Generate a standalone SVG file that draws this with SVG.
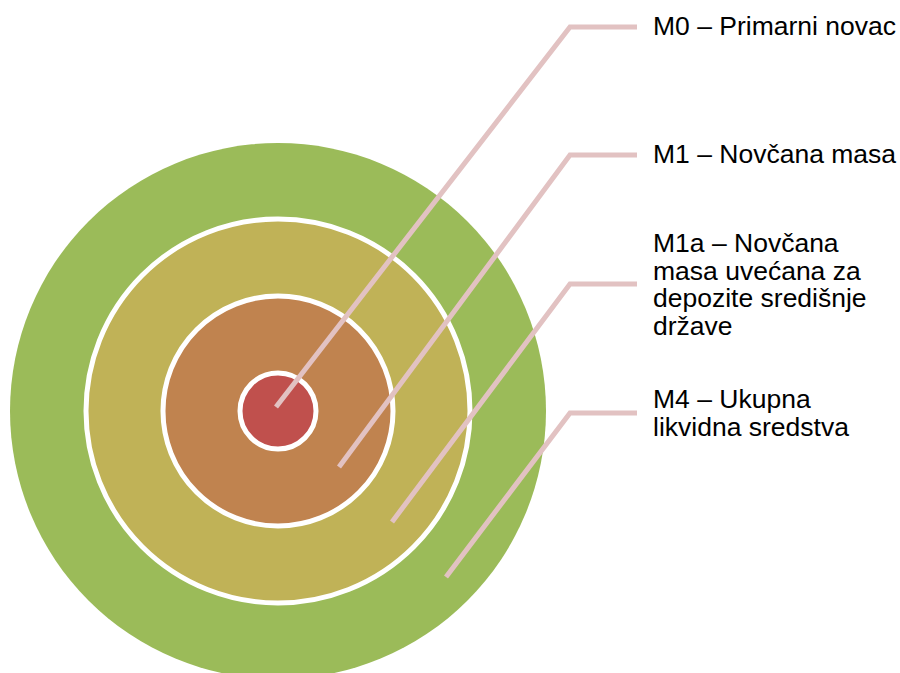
<svg xmlns="http://www.w3.org/2000/svg" width="900" height="673" viewBox="0 0 900 673">
<style>
.ring{stroke:#FFFFFF;stroke-width:5}
.lead{fill:none;stroke:#E2C2C2;stroke-width:5;stroke-linejoin:miter}
.lbl{font-family:"Liberation Sans",Arial,sans-serif;font-size:26.5px;fill:#000000}
</style>
<rect width="900" height="673" fill="#FFFFFF"/>
<g id="m4-circle"><circle cx="278" cy="411" r="268" fill="#9BBB59"/></g>
<g id="m1a-circle"><circle class="ring" cx="278" cy="411" r="192" fill="#C0B257"/></g>
<g id="m1-circle"><circle class="ring" cx="278" cy="411" r="115" fill="#C0834F"/></g>
<g id="m0-circle"><circle class="ring" cx="278" cy="411" r="38" fill="#C0504D"/></g>
<g id="connectors">
<polyline class="lead" points="276,407 570,27 637,27"/>
<polyline class="lead" points="339,467 570,155 637,155"/>
<polyline class="lead" points="392,522 570,284 637,284"/>
<polyline class="lead" points="446,577 570,413 637,413"/>
</g>
<g id="label-m0"><text class="lbl" x="653" y="35">M0 – Primarni novac</text></g>
<g id="label-m1"><text class="lbl" x="653" y="163">M1 – Novčana masa</text></g>
<g id="label-m1a"><text class="lbl" x="653" y="252">M1a – Novčana<tspan x="653" dy="27.7">masa uvećana za</tspan><tspan x="653" dy="27.7">depozite središnje</tspan><tspan x="653" dy="27.7">države</tspan></text></g>
<g id="label-m4"><text class="lbl" x="653" y="408">M4 – Ukupna<tspan x="653" dy="27.7">likvidna sredstva</tspan></text></g>
</svg>
